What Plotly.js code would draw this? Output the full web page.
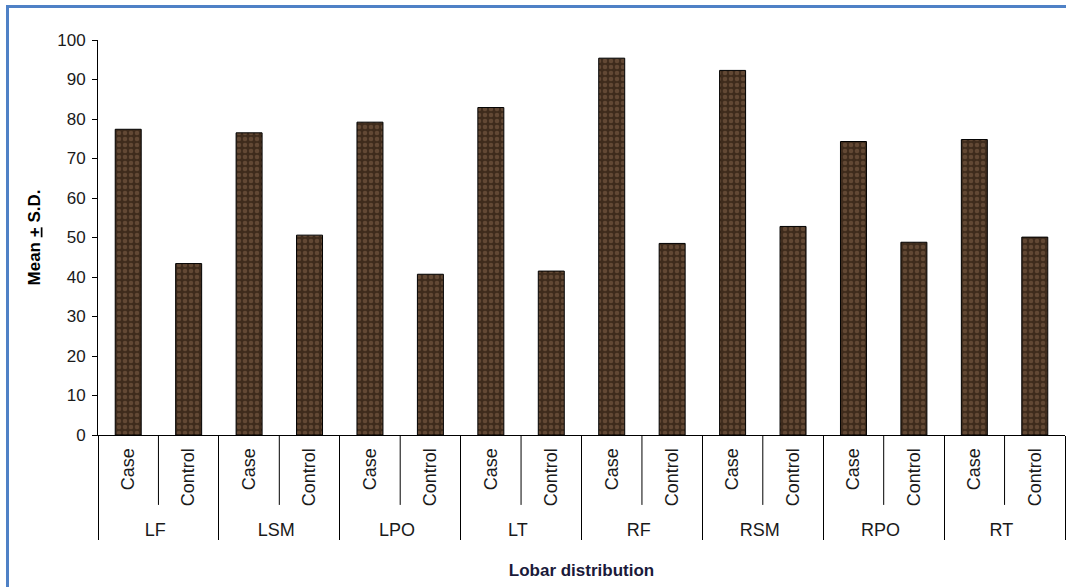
<!DOCTYPE html>
<html>
<head>
<meta charset="utf-8">
<script src="https://cdn.plot.ly/plotly-3.0.1.min.js"></script>
<style>
  html, body { margin: 0; padding: 0; background: #ffffff; }
  #wrap { position: relative; width: 1066px; height: 587px; overflow: hidden; background: #ffffff; }
  #chart { position: absolute; left: 0; top: 0; width: 1066px; height: 587px; }
  #frame { position: absolute; left: 6px; top: 5px; width: 1200px; height: 800px;
           border: 3px solid #4f81c6; pointer-events: none; }
</style>
</head>
<body>
<div id="wrap">
  <div id="chart"></div>
  <div id="frame"></div>
</div>
<script>
// ---- data ----
const groups = ['LF', 'LSM', 'LPO', 'LT', 'RF', 'RSM', 'RPO', 'RT'];
const subLabels = ['Case', 'Control'];
const caseValues = [77.4, 76.5, 79.2, 82.9, 95.4, 92.3, 74.3, 74.8];
const controlValues = [43.4, 50.6, 40.7, 41.5, 48.5, 52.8, 48.8, 50.1];
const yTickVals = [0, 10, 20, 30, 40, 50, 60, 70, 80, 90, 100];

// ---- build multicategory arrays ----
const outer = [], inner = [], vals = [];
groups.forEach((g, i) => {
  outer.push(g, g);
  inner.push(subLabels[0], subLabels[1]);
  vals.push(caseValues[i], controlValues[i]);
});

const fontFam = 'Liberation Sans, Arial, sans-serif';

// inner dividers between Case and Control within each group
const shapes = groups.map((g, i) => ({
  type: 'line', xref: 'x', yref: 'paper',
  x0: 2 * i + 0.5, x1: 2 * i + 0.5, y0: 0, y1: -0.177,
  line: { color: '#000000', width: 1 }
}));

const trace = {
  type: 'bar',
  x: [outer, inner],
  y: vals,
  marker: {
    color: '#3e2b1c',
    line: { color: '#000000', width: 1 },
    pattern: { shape: '.', fgcolor: '#624834', bgcolor: '#3e2b1c', size: 6, solidity: 0.45 }
  },
  hoverinfo: 'x+y'
};

const layout = {
  width: 1066, height: 587,
  margin: { l: 98, r: 1, t: 40, b: 152 },
  paper_bgcolor: 'rgba(0,0,0,0)',
  plot_bgcolor: '#ffffff',
  bargap: 0.57,
  showlegend: false,
  font: { family: fontFam, color: '#1a1a1a' },
  xaxis: {
    type: 'multicategory',
    tickangle: -90,
    showdividers: true,
    dividercolor: '#000000',
    dividerwidth: 1,
    ticks: '',
    ticklabelstandoff: 5,
    showline: true,
    linecolor: '#000000',
    linewidth: 1,
    showgrid: false,
    tickfont: { family: fontFam, size: 18, color: '#1a1a1a' },
    title: { text: '<b>Lobar distribution</b>', font: { family: fontFam, size: 17, color: '#1a1a3a' }, standoff: 25 }
  },
  yaxis: {
    range: [0, 100],
    tickvals: yTickVals,
    ticks: 'outside',
    ticklen: 5,
    tickcolor: '#000000',
    ticklabelstandoff: 3,
    showline: true,
    linecolor: '#000000',
    linewidth: 1,
    showgrid: false,
    zeroline: false,
    tickfont: { family: fontFam, size: 17, color: '#1a1a1a' },
    title: { text: '<b>Mean <span style="text-decoration:underline">+</span> S.D.</b>', font: { family: fontFam, size: 17, color: '#000000' }, standoff: 12 }
  },
  shapes: shapes
};

Plotly.newPlot('chart', [trace], layout, { displayModeBar: false, staticPlot: true });
</script>
</body>
</html>
